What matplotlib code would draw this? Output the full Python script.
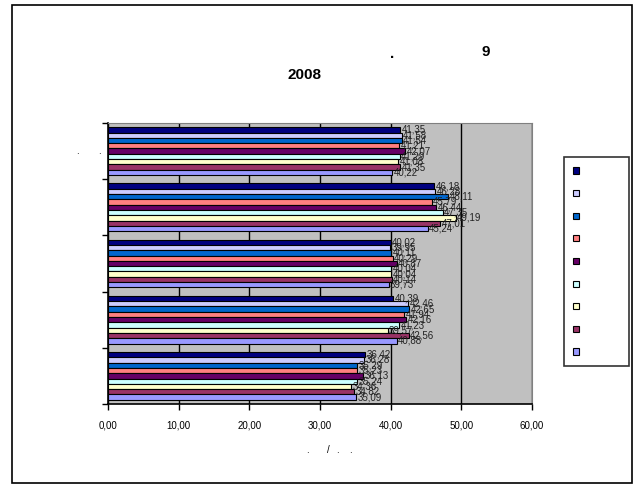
import numpy as np
import matplotlib
matplotlib.use("Agg")
from matplotlib import pyplot as plt
from matplotlib.patches import Patch, Rectangle

plt.rcParams['font.family'] = ['Liberation Sans', 'DejaVu Sans']

# groups from top to bottom, series in legend order
s1 = [41.35, 46.18, 40.02, 40.39, 36.42]
s2 = [41.58, 46.28, 39.95, 42.46, 36.28]
s3 = [41.54, 48.11, 40.11, 42.65, 35.29]
s4 = [41.21, 45.79, 40.29, 41.94, 35.23]
s5 = [42.07, 46.44, 40.87, 42.16, 36.13]
s6 = [41.29, 47.35, 40.04, 41.23, 35.24]
s7 = [41.08, 49.19, 40.04, 39.57, 34.36]
s8 = [41.35, 47.01, 40.14, 42.56, 34.82]
s9 = [40.22, 45.24, 39.73, 40.88, 35.09]
series = [s1, s2, s3, s4, s5, s6, s7, s8, s9]
colors = ['#000080', '#CCCCFF', '#0066CC', '#FF8080', '#660066',
          '#CCFFFF', '#FFFFCC', '#993366', '#9999FF']
xticks = [0, 10, 20, 30, 40, 50, 60]

fig = plt.figure(figsize=(6.37, 4.88), dpi=100)
fig.patches.append(Rectangle((12/637, 5/488), 620/637, 478/488, transform=fig.transFigure,
                             fill=False, edgecolor='black', linewidth=1.2))
ax = fig.add_axes([108/637, 84/488, 424/637, 281/488])
ax.set_facecolor('#C0C0C0')

n = len(series)
bh = 0.85 / n
y = np.arange(len(s1))
for i, (vals, c) in enumerate(zip(series, colors)):
    pos = y - 0.425 + bh * (i + 0.5)
    ax.barh(pos, vals, height=bh, color=c, edgecolor='black', linewidth=0.8, zorder=2)
    for p, v in zip(pos, vals):
        ax.text(v + 0.2, p, ('%.2f' % v).replace('.', ','), fontsize=7,
                va='center', ha='left', color='#222222', zorder=3)

ax.set_xlim(0, 60)
ax.set_ylim(4.5, -0.5)
ax.set_xticks(xticks)
ax.set_xticklabels([('%.2f' % t).replace('.', ',') for t in xticks], fontsize=7)
ax.set_yticks(np.arange(-0.5, 5, 1))
ax.set_yticklabels([])
ax.tick_params(axis='x', length=4, width=1, pad=8, direction='out')
ax.tick_params(axis='y', length=4, width=1, direction='out')
ax.xaxis.grid(True, color='black', linewidth=1, zorder=0)
ax.set_axisbelow(True)
for side in ['top', 'right']:
    ax.spines[side].set_color('#808080')
for side in ['left', 'bottom']:
    ax.spines[side].set_linewidth(1.2)

# title (only visible glyphs)
fig.text(392/637, 1 - 54/488, '.', fontsize=11, fontweight='bold', ha='center', va='center')
fig.text(486/637, 1 - 52/488, '9', fontsize=11, fontweight='bold', ha='center', va='center')
fig.text(304/637, 1 - 75/488, '2008', fontsize=11, fontweight='bold', ha='center', va='center')

# category label and axis label fragments
fig.text(77/637, 1 - 151/488, '.', fontsize=7, ha='center', va='center')
fig.text(99/637, 1 - 151/488, '.', fontsize=7, ha='center', va='center')
fig.text(307/637, 1 - 450/488, '.', fontsize=7, ha='center', va='center')
fig.text(328/637, 1 - 450/488, '/', fontsize=7, ha='center', va='center')
fig.text(337/637, 1 - 450/488, '.', fontsize=7, ha='center', va='center')
fig.text(350/637, 1 - 450/488, '.', fontsize=7, ha='center', va='center')

handles = [Patch(facecolor=c, edgecolor='black', linewidth=0.8) for c in colors]
leg = fig.legend(handles, [' '] * n, loc='upper left',
                 bbox_to_anchor=(564/637, 1 - 162/488, 65/637, 0.01), mode='expand',
                 fontsize=7, handlelength=0.6, handleheight=0.6, labelspacing=1.3,
                 borderpad=0.9, handletextpad=0.5, borderaxespad=0, frameon=True,
                 fancybox=False)
leg.get_frame().set_edgecolor('black')
leg.get_frame().set_linewidth(1.2)

fig.savefig('out.png', dpi=100)
